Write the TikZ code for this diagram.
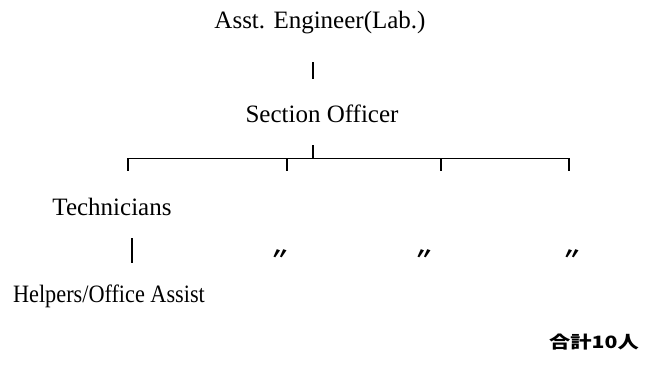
\documentclass[tikz,border=0pt]{standalone}
\usepackage{fontspec}
\usepackage{graphicx}
\setmainfont{Liberation Serif}
\newfontfamily\cjk[FakeStretch=1.25]{Noto Sans CJK JP}
\begin{document}
\begin{tikzpicture}[x=0.5pt,y=-0.5pt,font=\fontsize{12.5}{15}\selectfont]
    \useasboundingbox (0,0) rectangle (652,364);
    \node[anchor=base] (asst) at (320,28) {Asst. Engineer(Lab.)};
    \node[anchor=base] (sec) at (322,122) {Section Officer};
    \node[anchor=base] (tech) at (112,215) {Technicians};
    \node[anchor=base] (help) at (109,302) {\scalebox{0.89}[1]{Helpers/Office Assist}};
    \node[anchor=base,font=\cjk\bfseries\fontsize{8.5}{10}\selectfont] (total) at (594,348) {合計10人};
    % short bars between the levels
    \coordinate (up1) at (313,62); \coordinate (dn1) at (313,79);
    \draw[line width=1pt] (up1) -- (dn1);
    \coordinate (up2) at (132,238); \coordinate (dn2) at (132,263);
    \draw[line width=1.2pt] (up2) -- (dn2);
    % bracket under the section officer
    \coordinate (stub) at (313,145); \coordinate (mid) at (313,158);
    \draw[line width=1pt] (stub) -- (mid);
    \foreach \x/\n in {128/0,287/1,441/2,569/3} \coordinate (br\n) at (\x,158);
    \draw[line width=0.5pt] (br0) -- (br3);
    \foreach \n in {0,...,3} \draw[line width=0.7pt] (br\n) -- ++(0,13);
    % ditto marks for the other three groups
    \foreach \x/\n in {280/1,424/2,572/3} \node[font=\cjk\bfseries\fontsize{8}{9}\selectfont] (dit\n) at (\x,255) {〃};
  \end{tikzpicture}
\end{document}
